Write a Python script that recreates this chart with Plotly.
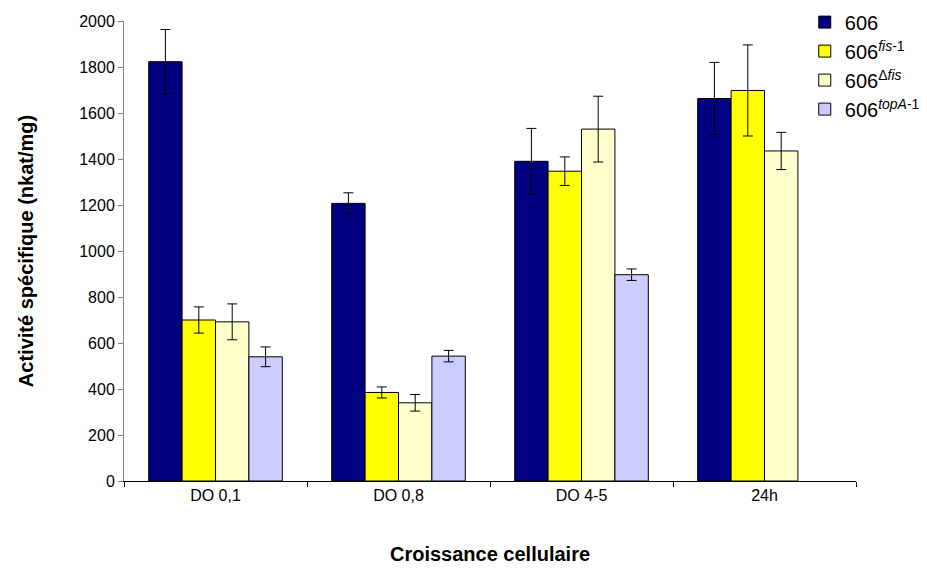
import plotly.graph_objects as go

categories = ["DO 0,1", "DO 0,8", "DO 4-5", "24h"]

names = ["606", "606<sup><i>fis</i>-1</sup>", "606<sup>\u0394<i>fis</i></sup>", "606<sup><i>topA</i>-1</sup>"]
colors = ["#000080", "#FFFF00", "#FFFFCC", "#CCCCFF"]

val_606 = [1823, 1207, 1390, 1663]
err_606 = [140, 46, 143, 157]
val_fis1 = [700, 385, 1347, 1698]
err_fis1 = [57, 24, 62, 198]
val_dfis = [692, 340, 1530, 1435]
err_dfis = [78, 36, 143, 81]
val_topa = [540, 543, 897, None]
err_topa = [43, 25, 25, None]

values = [val_606, val_fis1, val_dfis, val_topa]
errors = [err_606, err_fis1, err_dfis, err_topa]

fig = go.Figure()
for name, col, v, e in zip(names, colors, values, errors):
    fig.add_trace(go.Bar(
        x=categories, y=v, name=name,
        marker=dict(color=col, line=dict(color="black", width=1)),
        error_y=dict(type="data", array=e, color="black", thickness=1, width=5),
    ))

# page body adds 8px on top/left, so the figure is 8px smaller
fig.update_layout(
    width=919, height=560,
    barmode="group", bargap=0.27, bargroupgap=0,
    plot_bgcolor="white", paper_bgcolor="white",
    font=dict(family="Liberation Sans, Arial", size=16, color="black"),
    margin=dict(l=116, r=71, t=13, b=87, autoexpand=False),
    legend=dict(x=0.93, y=1.04, xanchor="left", yanchor="top",
                font=dict(size=20), bgcolor="rgba(0,0,0,0)",
                tracegroupgap=0, itemwidth=30),
    showlegend=True,
)
fig.update_yaxes(
    range=[0, 2000], dtick=200, showgrid=False, zeroline=False, automargin=False,
    showline=True, linecolor="#808080", linewidth=1,
    ticks="outside", ticklen=5, tickcolor="#808080",
    title=dict(text="<b>Activité spécifique (nkat/mg)</b>", font=dict(size=20), standoff=40),
)
fig.update_xaxes(
    showgrid=False, showline=True, linecolor="black", linewidth=1, automargin=False,
    ticks="outside", ticklen=5, tickcolor="black", tickson="boundaries",
    title=dict(text="<b>Croissance cellulaire</b>", font=dict(size=20), standoff=43),
)

fig.write_html("out.html")
